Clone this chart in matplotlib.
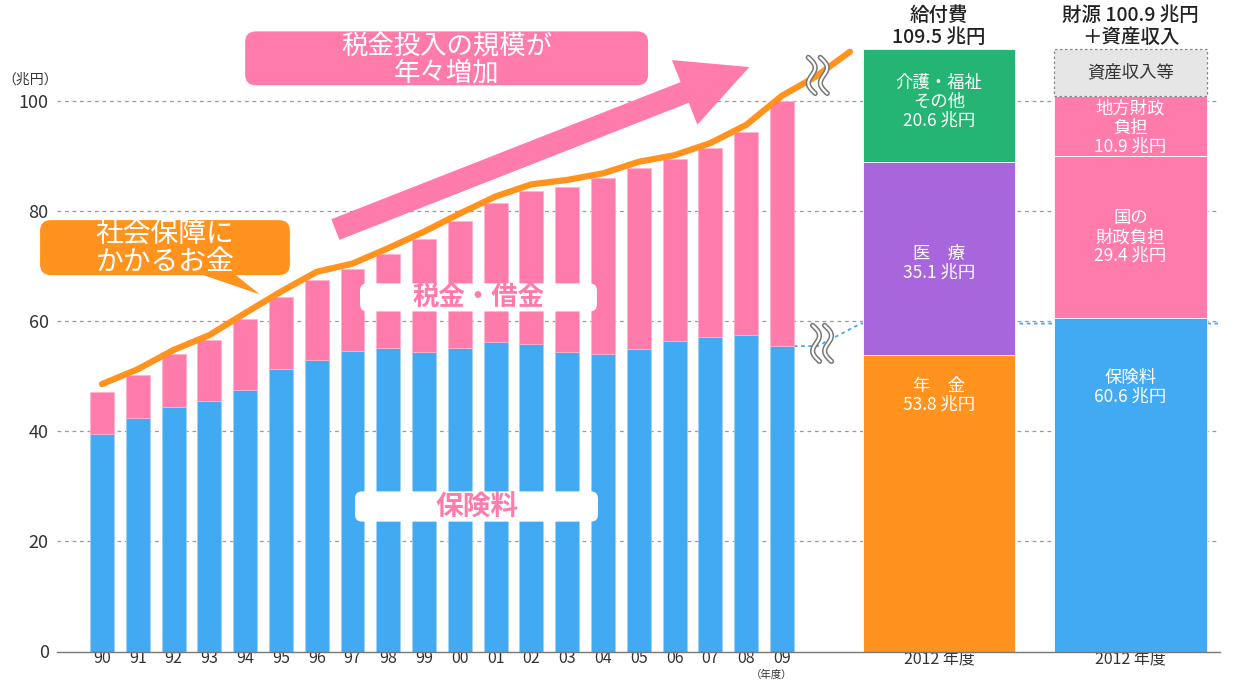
import matplotlib
matplotlib.use('Agg')
import matplotlib.pyplot as plt
import numpy as np
from matplotlib.patches import FancyBboxPatch, FancyArrowPatch, Polygon
from matplotlib.transforms import IdentityTransform

plt.rcParams['font.family'] = ['Noto Sans CJK JP', 'DejaVu Sans']

# ---------------- data ----------------
years = ['90', '91', '92', '93', '94', '95', '96', '97', '98', '99',
         '00', '01', '02', '03', '04', '05', '06', '07', '08', '09']
hokenryo = [39.6, 42.4, 44.4, 45.6, 47.5, 51.3, 52.9, 54.7, 55.1, 54.4,
            55.1, 56.2, 55.8, 54.5, 54.0, 54.9, 56.4, 57.1, 57.5, 55.5]
bar_total = [47.1, 50.2, 54.0, 56.7, 60.5, 64.5, 67.5, 69.6, 72.2, 74.9,
             78.2, 81.5, 83.6, 84.4, 86.0, 87.8, 89.5, 91.5, 94.4, 100.0]
shakai_hosho = [48.6, 51.3, 54.8, 57.5, 61.5, 65.4, 69.0, 70.5, 73.3, 76.3,
                79.6, 82.7, 84.9, 85.7, 86.9, 89.0, 90.2, 92.4, 95.7, 101.0]
shakai_ext_pos = [19.95, 20.9]
shakai_ext = [104.5, 109.0]

kyufu_labels = ['年　金\n53.8 兆円', '医　療\n35.1 兆円', '介護・福祉\nその他\n20.6 兆円']
kyufu_values = [53.8, 35.1, 20.6]
zaigen_labels = ['保険料\n60.6 兆円', '国の\n財政負担\n29.4 兆円', '地方財政\n負担\n10.9 兆円']
zaigen_values = [60.6, 29.4, 10.9]
shisan_value = 8.6
hoken_ref_level = 59.6

yticks = [0, 20, 40, 60, 80, 100]

# ---------------- style ----------------
BLUE = '#42A9F3'
PINK = '#FF7BAC'
ORANGE = '#FF931E'
GREEN = '#24B574'
PURPLE = '#A866DC'
GRAYBOX = '#E6E6E6'
TXT = '#333333'

fig = plt.figure(figsize=(12.43, 6.80), dpi=100)
BOT = 651.5
ax = fig.add_axes([57 / 1243, 1 - BOT / 680, (1220 - 57) / 1243, BOT / 680])
ax.set_xlim(-1.257, 31.24)
ax.set_ylim(0, 118.4)

x = np.arange(len(years))
hok = np.array(hokenryo)
zei = np.array(bar_total) - hok
bw = 0.67

# grid
for yt in yticks[1:]:
    ax.axhline(yt, color='#999999', lw=0.9, ls=(0, (3, 3)), zorder=0.5)

ax.bar(x, hok, bw, color=BLUE, edgecolor='#9ED2F8', lw=0.5, zorder=2)
ax.bar(x, zei, bw, bottom=hok, color=PINK, edgecolor='#FFB3CF', lw=0.5, zorder=2)

# right stacked bars
kx, zx, rbw = 23.39, 28.74, 4.26
kcolors = [ORANGE, PURPLE, GREEN]
bottom = 0
for v, c in zip(kyufu_values, kcolors):
    ax.bar(kx, v, rbw, bottom=bottom, color=c, edgecolor='white', lw=0.6, zorder=2)
    bottom += v
zcolors = [BLUE, PINK, PINK]
bottom = 0
for v, c in zip(zaigen_values, zcolors):
    ax.bar(zx, v, rbw, bottom=bottom, color=c, edgecolor='white', lw=0.6, zorder=2)
    bottom += v
ax.bar(zx, shisan_value, rbw, bottom=bottom, color=GRAYBOX, edgecolor='#888888',
       lw=0.9, ls=(0, (2, 2)), zorder=2)

# labels in right bars
k_text_y = [46.6, 70.6, 99.9]
for ty, lab in zip(k_text_y, kyufu_labels):
    ax.text(kx, ty, lab, color='white', ha='center', va='center', fontsize=12.5,
            linespacing=1.05, zorder=5)
z_text_y = [48.0, 75.3, 95.2]
for ty, lab in zip(z_text_y, zaigen_labels):
    ax.text(zx, ty, lab, color='white', ha='center', va='center', fontsize=12.5,
            linespacing=1.05, zorder=5)
ax.text(zx, 105.3, '資産収入等', color=TXT, ha='center', va='center', fontsize=12.5, zorder=5)

# headers
ax.text(kx, 113.6, '給付費\n109.5 兆円', color='#222222', ha='center', va='center',
        fontsize=14, linespacing=1.2, fontweight='medium')
ax.text(zx, 113.6, '財源 100.9 兆円\n＋資産収入', color='#222222', ha='center', va='center',
        fontsize=14, linespacing=1.2, fontweight='medium')

# blue dotted reference line
ax.plot([x[-1] + bw / 2, 20.0, 21.2, 31.24], [hok[-1], hok[-1], hoken_ref_level, hoken_ref_level],
        color=BLUE, lw=1.3, ls=(0, (2, 2)), zorder=1)

# orange line
lx = list(x) + shakai_ext_pos
ly = list(shakai_hosho) + shakai_ext
ax.plot(lx, ly, color=ORANGE, lw=4.5, solid_capstyle='round', solid_joinstyle='round', zorder=4)

# break marks
def draw_break(xd, yd):
    cx, cy = ax.transData.transform((xd, yd))
    t = np.linspace(0, 1, 60)
    for dx in (-6, 6):
        px = cx + dx + 5 * np.sin(2 * np.pi * t) + 7 * (t - 0.5)
        py = cy + 18 - 36 * t
        ax.plot(px, py, color='#777777', lw=3.8, transform=IdentityTransform(), zorder=6,
                solid_capstyle='round', clip_on=False)
        ax.plot(px, py, color='white', lw=1.6, transform=IdentityTransform(), zorder=7,
                solid_capstyle='round', clip_on=False)

draw_break(20.0, 104.7)
draw_break(20.12, 56.0)

asp = (1163 / 32.497) / (BOT / 118.4)

# big pink arrow
arr = FancyArrowPatch((6.45, 76.5), (18.16, 106.4),
                      arrowstyle='simple,head_length=50,head_width=50,tail_width=16',
                      mutation_scale=1, color=PINK, lw=0, zorder=3)
ax.add_patch(arr)

# pink title box
b1 = FancyBboxPatch((4.0, 102.9), 11.26, 9.8, boxstyle='round,pad=0,rounding_size=0.3',
                    mutation_aspect=asp, fc=PINK, ec='none', zorder=3, clip_on=False)
ax.add_patch(b1)
ax.text(9.63, 107.5, '税金投入の規模が\n年々増加', color='white', ha='center', va='center',
        fontsize=19, linespacing=0.95, zorder=5)

# orange callout box
b2 = FancyBboxPatch((-1.73, 68.4), 6.98, 10.0, boxstyle='round,pad=0,rounding_size=0.3',
                    mutation_aspect=asp, fc=ORANGE, ec='none', zorder=3, clip_on=False)
ax.add_patch(b2)
ax.add_patch(Polygon([(2.65, 68.8), (3.66, 68.8), (4.41, 64.9)], closed=True, fc=ORANGE,
                     ec='none', zorder=3))
ax.text(1.76, 73.3, '社会保障に\nかかるお金', color='white', ha='center', va='center',
        fontsize=20, linespacing=0.92, zorder=5, clip_on=False)

# white label boxes
b3 = FancyBboxPatch((7.21, 61.8), 6.62, 5.1, boxstyle='round,pad=0,rounding_size=0.2',
                    mutation_aspect=asp, fc='white', ec='none', zorder=3)
ax.add_patch(b3)
ax.text(10.52, 64.35, '税金・借金', color=PINK, ha='center', va='center', fontsize=19,
        fontweight='bold', zorder=5)
b4 = FancyBboxPatch((7.07, 23.6), 6.79, 5.5, boxstyle='round,pad=0,rounding_size=0.2',
                    mutation_aspect=asp, fc='white', ec='none', zorder=3)
ax.add_patch(b4)
ax.text(10.47, 26.35, '保険料', color=PINK, ha='center', va='center', fontsize=20,
        fontweight='bold', zorder=5)

# axes styling
for s in ('left', 'right', 'top'):
    ax.spines[s].set_visible(False)
ax.spines['bottom'].set_color('#777777')
ax.spines['bottom'].set_linewidth(1.0)
ax.set_yticks(yticks)
ax.set_yticklabels([str(v) for v in yticks], fontsize=13, color=TXT)
ax.tick_params(axis='y', length=0, pad=6)
ax.set_xticks(list(x) + [kx, zx])
ax.set_xticklabels(years + ['2012 年度', '2012 年度'], fontsize=11.5, color=TXT)
ax.tick_params(axis='x', length=0, pad=-1)
ax.annotate('（年度）', xy=(19 - 0.3, 0), xycoords='data', xytext=(0, -23.5),
            textcoords='offset pixels', ha='center', va='center', fontsize=7.5, color=TXT,
            annotation_clip=False)
ax.text(-2.0, 103.9, '（兆円）', ha='center', va='center', fontsize=10, color=TXT,
        clip_on=False)

fig.savefig('out.png', dpi=100)
